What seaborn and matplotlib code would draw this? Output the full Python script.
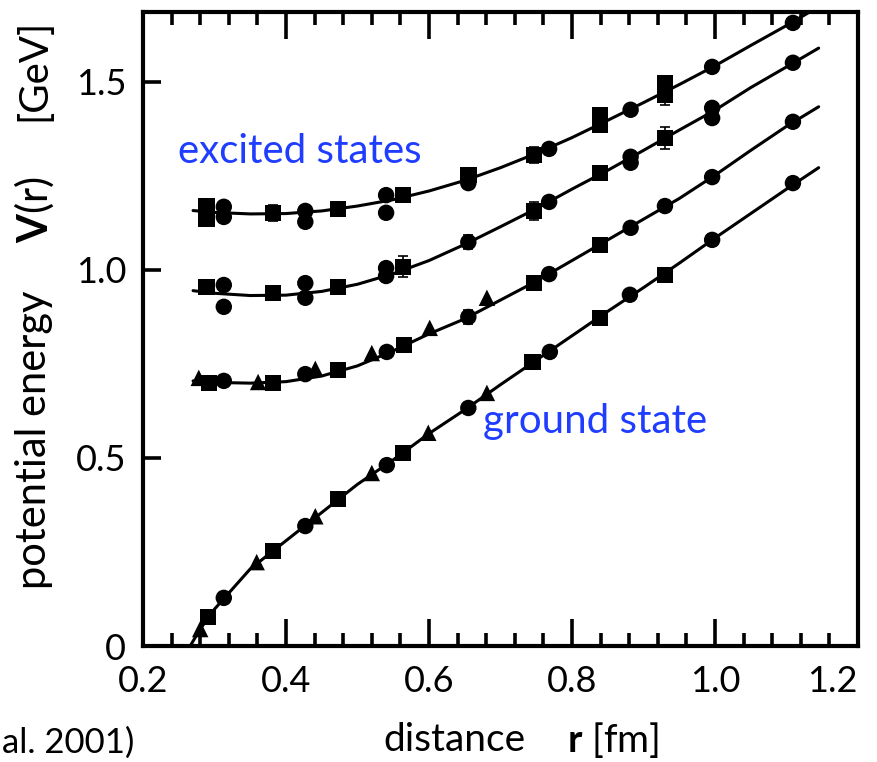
import numpy as np
import pandas as pd
import seaborn as sns
import matplotlib.pyplot as plt
from matplotlib.ticker import MultipleLocator, FixedLocator, FixedFormatter

# ------------------------------------------------------------------------------------------------ #
# Lattice data points: r [fm], V(r) [GeV], marker shape
r_ground = [0.280, 0.291, 0.313, 0.359, 0.382, 0.427, 0.441, 0.473, 0.520, 0.541, 0.564,
            0.599, 0.655, 0.681, 0.745, 0.769, 0.839, 0.881, 0.930, 0.996, 1.109]
v_ground = [0.045, 0.077, 0.128, 0.223, 0.253, 0.319, 0.345, 0.391, 0.460, 0.481, 0.513,
            0.567, 0.633, 0.673, 0.755, 0.782, 0.872, 0.934, 0.987, 1.080, 1.231]
m_ground = ["t", "s", "c", "t", "s", "c", "t", "s", "t", "c", "s",
            "t", "c", "t", "s", "c", "s", "c", "s", "c", "c"]

r_exc1 = [0.278, 0.292, 0.313, 0.361, 0.382, 0.427, 0.441, 0.473, 0.520, 0.541, 0.565,
          0.601, 0.655, 0.681, 0.747, 0.768, 0.839, 0.882, 0.930, 0.996, 1.109]
v_exc1 = [0.713, 0.699, 0.705, 0.702, 0.699, 0.723, 0.737, 0.734, 0.779, 0.782, 0.801,
          0.846, 0.875, 0.926, 0.965, 0.989, 1.066, 1.112, 1.170, 1.247, 1.394]
m_exc1 = ["t", "s", "c", "t", "s", "c", "t", "s", "t", "c", "s",
          "t", "c", "t", "s", "c", "s", "c", "c", "c", "c"]

r_exc2 = [0.289, 0.313, 0.313, 0.382, 0.427, 0.427, 0.473, 0.540, 0.540, 0.564,
          0.655, 0.747, 0.768, 0.839, 0.882, 0.882, 0.930, 0.996, 0.996, 1.109]
v_exc2 = [0.955, 0.960, 0.902, 0.939, 0.965, 0.926, 0.955, 1.005, 0.984, 1.008,
          1.074, 1.157, 1.181, 1.258, 1.301, 1.285, 1.351, 1.431, 1.404, 1.551]
m_exc2 = ["s", "c", "c", "s", "c", "c", "s", "c", "c", "s",
          "c", "s", "c", "s", "c", "c", "s", "c", "c", "c"]

r_exc3 = [0.289, 0.289, 0.313, 0.313, 0.382, 0.427, 0.427, 0.473, 0.540, 0.540, 0.564,
          0.655, 0.655, 0.747, 0.768, 0.839, 0.839, 0.882, 0.930, 0.930, 0.996, 1.109]
v_exc3 = [1.170, 1.135, 1.168, 1.141, 1.152, 1.157, 1.128, 1.162, 1.199, 1.152, 1.199,
          1.253, 1.231, 1.306, 1.322, 1.412, 1.386, 1.426, 1.497, 1.465, 1.540, 1.657]
m_exc3 = ["s", "s", "c", "c", "s", "c", "c", "s", "c", "c", "s",
          "s", "c", "s", "c", "s", "s", "c", "s", "s", "c", "c"]

# points that carry visible error bars
err_r = [0.382, 0.747, 0.930, 0.564, 0.655, 0.747, 0.930, 0.655]
err_v = [1.152, 1.306, 1.465, 1.008, 1.074, 1.157, 1.351, 0.875]
err_dv = [0.022, 0.022, 0.025, 0.028, 0.018, 0.025, 0.030, 0.018]

# fitted curves
r_fit_ground = [0.266, 0.28, 0.30, 0.35, 0.40, 0.45, 0.50, 0.55, 0.60, 0.65, 0.70, 0.75,
                0.80, 0.85, 0.90, 0.95, 1.00, 1.05, 1.10, 1.145]
v_fit_ground = [0.0, 0.045, 0.098, 0.205, 0.28, 0.355, 0.43, 0.495, 0.565, 0.628, 0.695, 0.76,
                0.825, 0.89, 0.953, 1.018, 1.085, 1.15, 1.215, 1.272]
r_fit = [0.27, 0.30, 0.35, 0.40, 0.45, 0.50, 0.55, 0.60, 0.65, 0.70, 0.75,
         0.80, 0.85, 0.90, 0.95, 1.00, 1.05, 1.10, 1.145]
v_fit_exc1 = [0.705, 0.701, 0.699, 0.703, 0.718, 0.745, 0.785, 0.83, 0.87, 0.92, 0.97,
              1.025, 1.08, 1.135, 1.19, 1.252, 1.318, 1.382, 1.434]
v_fit_exc2 = [0.945, 0.938, 0.932, 0.933, 0.943, 0.962, 0.99, 1.025, 1.068, 1.115, 1.163,
              1.215, 1.265, 1.318, 1.372, 1.425, 1.485, 1.54, 1.59]
v_fit_exc3 = [1.158, 1.153, 1.149, 1.15, 1.157, 1.17, 1.187, 1.21, 1.238, 1.272, 1.31,
              1.352, 1.398, 1.445, 1.493, 1.543, 1.597, 1.65, 1.70]

x_ticks = [0.2, 0.4, 0.6, 0.8, 1.0, 1.2]
x_tick_labels = ["0.2", "0.4", "0.6", "0.8", "1.0", "1.2"]
y_ticks = [0.0, 0.5, 1.0, 1.5]
y_tick_labels = ["0", "0.5", "1.0", "1.5"]
# ------------------------------------------------------------------------------------------------ #

sns.set_style("ticks")
plt.rcParams["font.family"] = ["Lato", "DejaVu Sans"]
plt.rcParams["mathtext.fontset"] = "custom"
plt.rcParams["mathtext.rm"] = "Lato"
plt.rcParams["mathtext.bf"] = "Lato:bold"
plt.rcParams["axes.edgecolor"] = "black"
plt.rcParams["xtick.color"] = "black"
plt.rcParams["ytick.color"] = "black"
plt.rcParams["text.color"] = "black"

BLUE = "#1f3dff"
W, H = 878, 762

points = pd.concat(
    [
        pd.DataFrame({"r": r_ground, "V": v_ground, "shape": m_ground}),
        pd.DataFrame({"r": r_exc1, "V": v_exc1, "shape": m_exc1}),
        pd.DataFrame({"r": r_exc2, "V": v_exc2, "shape": m_exc2}),
        pd.DataFrame({"r": r_exc3, "V": v_exc3, "shape": m_exc3}),
    ],
    ignore_index=True,
)
curves = pd.concat(
    [
        pd.DataFrame({"r": r_fit_ground, "V": v_fit_ground, "state": "ground"}),
        pd.DataFrame({"r": r_fit, "V": v_fit_exc1, "state": "exc1"}),
        pd.DataFrame({"r": r_fit, "V": v_fit_exc2, "state": "exc2"}),
        pd.DataFrame({"r": r_fit, "V": v_fit_exc3, "state": "exc3"}),
    ],
    ignore_index=True,
)

fig = plt.figure(figsize=(W / 100, H / 100), dpi=100)
ax = fig.add_axes([143 / W, 116 / H, 715 / W, 634 / H])

sns.lineplot(data=curves, x="r", y="V", units="state", estimator=None, sort=False,
             color="black", linewidth=2.2, ax=ax, legend=False)
ax.errorbar(err_r, err_v, yerr=err_dv, fmt="none", ecolor="black", elinewidth=1.2,
            capsize=3.5, capthick=1.2, zorder=2)
sns.scatterplot(data=points, x="r", y="V", style="shape",
                markers={"c": "o", "s": "s", "t": "^"}, color="black", s=140,
                edgecolor="black", linewidth=0, ax=ax, legend=False, zorder=3)

ax.set_xlim(0.2, 1.2)
ax.set_ylim(0.0, 1.686)
ax.set_xlabel("")
ax.set_ylabel("")

ax.xaxis.set_major_locator(FixedLocator(x_ticks))
ax.xaxis.set_major_formatter(FixedFormatter(x_tick_labels))
ax.xaxis.set_minor_locator(MultipleLocator(0.04))
ax.yaxis.set_major_locator(FixedLocator(y_ticks))
ax.yaxis.set_major_formatter(FixedFormatter(y_tick_labels))
ax.yaxis.set_minor_locator(FixedLocator([]))

ax.tick_params(axis="x", which="major", direction="in", top=True, bottom=True,
               length=19.5, width=2.6, labelsize=26, pad=14)
ax.tick_params(axis="x", which="minor", direction="in", top=True, bottom=True,
               length=9.5, width=2.6)
ax.tick_params(axis="y", which="major", direction="in", left=True, right=False,
               length=13, width=2.6, labelsize=26, pad=12)
for spine in ax.spines.values():
    spine.set_linewidth(3.0)
    spine.set_visible(True)
# keep the last x label inside the canvas
ax.get_xticklabels()[-1].set_horizontalalignment("right")

ax.text(0.249, 1.285, "excited states", color=BLUE, fontsize=29, ha="left", va="baseline")
ax.text(0.676, 0.566, "ground state", color=BLUE, fontsize=29, ha="left", va="baseline")

# y label in three pieces, spaced like the original
fig.text(34 / W, 1 - 440 / H, "potential energy", rotation=90,
         ha="center", va="center", fontsize=30)
fig.text(34 / W, 1 - 210 / H, r"$\mathbf{V}$(r)", rotation=90,
         ha="center", va="center", fontsize=30)
fig.text(34 / W, 1 - 70 / H, "[GeV]", rotation=90,
         ha="center", va="center", fontsize=29)

fig.text(454 / W, 1 - 740 / H, "distance", ha="center", va="center", fontsize=28)
fig.text(567 / W, 1 - 740 / H, r"$\mathbf{r}$ [fm]", ha="left", va="center", fontsize=28)
fig.text(2 / W, 1 - 727 / H, "al. 2001)", ha="left", va="top", fontsize=25)

fig.savefig("out.png", dpi=100)
